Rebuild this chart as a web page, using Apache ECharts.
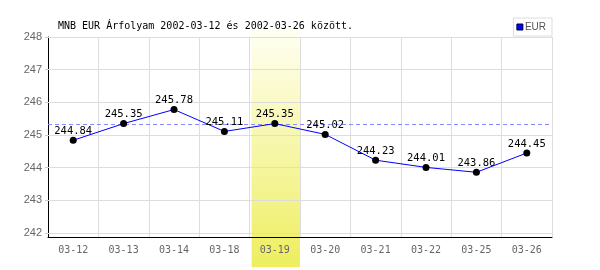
<!DOCTYPE html>
<html>
<head>
<meta charset="utf-8">
<script src="https://cdn.jsdelivr.net/npm/echarts@6/dist/echarts.min.js"></script>
<style>html,body{margin:0;padding:0;background:#fff}#c{width:600px;height:270px}</style>
</head>
<body>
<div id="c"></div>
<script>
const categories = ['03-12','03-13','03-14','03-18','03-19','03-20','03-21','03-22','03-25','03-26'];
const eurValues = [244.84,245.35,245.78,245.11,245.35,245.02,244.23,244.01,243.86,244.45];
const yTicks = [242,243,244,245,246,247,248];
const refLine = 245.33;
const highlightCategory = '03-19';
const titleText = 'MNB EUR Árfolyam 2002-03-12 és 2002-03-26 között.';

const chart = echarts.init(document.getElementById('c'), null, {renderer:'canvas'});
const mono = 'DejaVu Sans Mono';
chart.setOption({
  animation:false,
  backgroundColor:'#fff',
  title:{text:titleText,left:53,top:16,textStyle:{fontFamily:mono,fontSize:10,fontWeight:'normal',color:'#000'}},
  legend:{data:[{name:'EUR',icon:'rect',itemStyle:{color:'#0000ff',borderColor:'#000044',borderWidth:1}}],
    right:48,top:18,orient:'horizontal',itemWidth:6,itemHeight:6,itemGap:4,
    padding:[4,6,4,3],borderColor:'#dddddd',borderWidth:1,backgroundColor:'#fff',
    textStyle:{fontFamily:'Liberation Sans',fontSize:10,color:'#555',padding:[0,0,0,-3]}},
  grid:{left:48,right:48,top:37,bottom:33},
  xAxis:{type:'category',data:categories,boundaryGap:true,
    axisLine:{lineStyle:{color:'#000',width:1}},axisTick:{show:false},
    axisLabel:{fontFamily:mono,fontSize:10,color:'#666',margin:8},
    splitLine:{show:true,lineStyle:{color:'#dddddd',width:1}}},
  yAxis:{type:'value',min:241.88,max:248,
    axisLine:{show:true,lineStyle:{color:'#000',width:1}},
    axisTick:{show:true,customValues:yTicks,length:3,lineStyle:{color:'#ccc'}},
    axisLabel:{customValues:yTicks,fontFamily:'Liberation Sans',fontSize:11,color:'#666',margin:6},
    splitLine:{show:false}},
  series:[
    {name:'grid',type:'line',data:[],silent:true,
      markLine:{silent:true,symbol:'none',label:{show:false},
        lineStyle:{color:'#dddddd',type:'solid',width:1},
        data:yTicks.map(v=>({yAxis:v}))}},
    {name:'EUR',type:'line',data:eurValues,z:5,
      lineStyle:{color:'#0000ff',width:1},itemStyle:{color:'#000'},
      symbol:'circle',symbolSize:7,showAllSymbol:true,
      label:{show:true,position:'top',distance:0,fontFamily:mono,fontSize:10.5,color:'#000'},
      markLine:{silent:true,symbol:'none',label:{show:false},
        lineStyle:{color:'#8888ff',type:[4,3],width:1},data:[{yAxis:refLine}]}}
  ]
});
const cx = chart.convertToPixel({xAxisIndex:0}, highlightCategory);
const cw = chart.convertToPixel({xAxisIndex:0}, categories[1]) - chart.convertToPixel({xAxisIndex:0}, categories[0]);
chart.setOption({graphic:[{type:'rect',z:-10,zlevel:0,silent:true,
  shape:{x:cx-cw/2+2,y:28,width:cw-2,height:239},
  style:{fill:new echarts.graphic.LinearGradient(0,0,0,1,[{offset:0,color:'#fffff4'},{offset:1,color:'#eeee60'}])}}]});
</script>
</body>
</html>
